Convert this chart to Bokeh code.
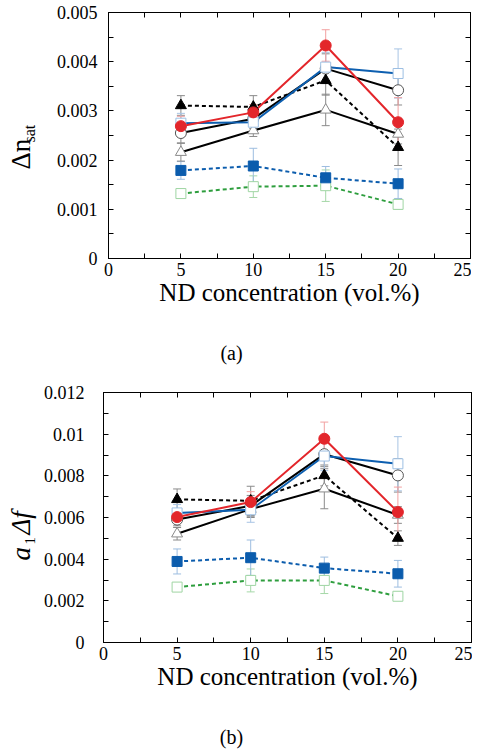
import math
from bokeh.plotting import figure
from bokeh.models import (ColumnDataSource, Whisker, TeeHead, LinearAxis,
                          FixedTicker, CustomJSTickFormatter, Range1d)
from bokeh.core.properties import value
from bokeh.layouts import column, row
from bokeh.embed import file_html
from bokeh.resources import INLINE

# ---------------- data ----------------
x_conc = [5, 10, 15, 20]
x_major = [0, 5, 10, 15, 20, 25]
x_minor = [2.5, 7.5, 12.5, 17.5, 22.5]

# (a) saturated birefringence
a_red = [0.00269, 0.00297, 0.00433, 0.00277]
a_red_err = [0.00020, 0.00016, 0.00032, 0.00050]
a_blue_open = [0.00275, 0.00277, 0.00389, 0.00376]
a_blue_open_err = [0.00020, 0.00020, 0.00030, 0.00050]
a_circle = [0.00255, 0.00284, 0.00386, 0.00342]
a_circle_err = [0.00020, 0.00020, 0.00030, 0.00030]
a_tri_open = [0.00216, 0.00260, 0.00302, 0.00253]
a_tri_open_err = [0.00018, 0.00012, 0.00032, 0.00020]
a_tri_fill = [0.00311, 0.00308, 0.00362, 0.00226]
a_tri_fill_err = [0.00020, 0.00023, 0.00030, 0.00037]
a_sq_fill = [0.00179, 0.00188, 0.00164, 0.00152]
a_sq_fill_err = [0.00018, 0.00036, 0.00023, 0.00030]
a_green = [0.00132, 0.00146, 0.00148, 0.00110]
a_green_err = [0.00008, 0.00022, 0.00032, 0.00010]
a_y_major = [0, 0.001, 0.002, 0.003, 0.004, 0.005]
a_y_minor = [0.0005, 0.0015, 0.0025, 0.0035, 0.0045]

# (b) a1 * delta f
b_red = [0.00602, 0.00674, 0.00978, 0.00626]
b_red_err = [0.00030, 0.00050, 0.00080, 0.00120]
b_blue_open = [0.00622, 0.00637, 0.00895, 0.00858]
b_blue_open_err = [0.00040, 0.00060, 0.00070, 0.00130]
b_circle = [0.00590, 0.00656, 0.00904, 0.00802]
b_circle_err = [0.00030, 0.00050, 0.00060, 0.00080]
b_tri_open = [0.00522, 0.00640, 0.00738, 0.00612]
b_tri_open_err = [0.00030, 0.00040, 0.00096, 0.00040]
b_tri_fill = [0.00687, 0.00680, 0.00802, 0.00501]
b_tri_fill_err = [0.00050, 0.00070, 0.00050, 0.00035]
b_sq_fill = [0.00389, 0.00407, 0.00357, 0.00330]
b_sq_fill_err = [0.00060, 0.00085, 0.00053, 0.00064]
b_green = [0.00266, 0.00298, 0.00298, 0.00222]
b_green_err = [0.00010, 0.00055, 0.00063, 0.00020]
b_y_major = [0, 0.002, 0.004, 0.006, 0.008, 0.010, 0.012]
b_y_minor = [0.001, 0.003, 0.005, 0.007, 0.009, 0.011]

x_title = "ND concentration (vol.%)"
captions = ["(a)", "(b)"]

FONT = "Liberation Serif"

# styles: (line_color, dash, marker, fill, outline, err_color)
STYLES = {
    "green": ("#2e9e3e", "4 3", "square", "white", "#9fd5a3", "#a6d8a8"),
    "sq_fill": ("#0b5cad", "4 3", "square", "#0b5cad", "#0b5cad", "#9dbde0"),
    "tri_open": ("black", "solid", "triangle", "white", "#8a8a8a", "#8a8a8a"),
    "circle": ("black", "solid", "circle", "white", "#555555", "#8a8a8a"),
    "tri_fill": ("black", "4 3", "triangle", "black", "black", "#8a8a8a"),
    "blue_open": ("#0d5fb0", "solid", "square", "white", "#9dbfe3", "#a8c4e4"),
    "red": ("#e3262b", "solid", "circle", "#e3262b", "#e3262b", "#f2a0a0"),
}
SIZES = {"square": 10, "triangle": 11, "circle": 11}

TOTAL_W = 471


def blank_fig(width, height):
    f = figure(output_backend="svg", toolbar_location=None,
               frame_width=width, frame_height=height,
               min_border_left=0, min_border_right=0, min_border_top=0,
               min_border_bottom=0, x_range=Range1d(0, width),
               y_range=Range1d(0, height), x_axis_type=None, y_axis_type=None)
    f.grid.visible = False
    f.outline_line_color = None
    f.background_fill_color = "white"
    f.border_fill_color = "white"
    return f


def make_label_fig(width, height, parts):
    """Narrow figure holding the rotated y-axis title pieces.
    parts: (text, x_px_from_left, y_px_from_top, font_size, style)"""
    f = blank_fig(width, height)
    for txt, xp, yp, fs, style in parts:
        f.text(x=[xp], y=[height - yp], text=[txt], angle=math.pi / 2,
               text_font=value(FONT), text_font_size=value(fs),
               text_font_style=style, text_align="left",
               text_baseline="alphabetic", text_color="black")
    return f


def make_caption_fig(height, txt, xc, yc):
    f = blank_fig(TOTAL_W, height)
    f.text(x=[xc], y=[height - yc], text=[txt], text_font=value(FONT),
           text_font_size=value("20px"), text_align="center",
           text_baseline="middle", text_color="black")
    return f


def make_panel(series, y_max, y_major, y_minor, fmt_code, border_left, frame_w,
               frame_h, top_border, bottom_border, label_standoff):
    p = figure(output_backend="svg", toolbar_location=None,
               frame_width=frame_w, frame_height=frame_h,
               min_border_left=border_left, min_border_right=1,
               min_border_top=top_border, min_border_bottom=bottom_border,
               x_range=Range1d(0, 25), y_range=Range1d(0, y_max),
               x_axis_type=None, y_axis_type=None)
    p.grid.visible = False
    p.outline_line_color = "black"
    p.outline_line_width = 1
    p.background_fill_color = "white"
    p.border_fill_color = "white"

    xt = FixedTicker(ticks=x_major, minor_ticks=x_minor)
    yt = FixedTicker(ticks=y_major, minor_ticks=y_minor)
    empty = CustomJSTickFormatter(code="return ''")

    def style_axis(ax):
        ax.major_tick_in = 5
        ax.major_tick_out = 0
        ax.minor_tick_in = 5
        ax.minor_tick_out = 0
        ax.major_tick_line_color = "black"
        ax.minor_tick_line_color = "black"
        ax.axis_line_color = "black"
        ax.major_label_text_font = FONT
        ax.major_label_text_font_size = "18px"
        ax.major_label_text_color = "black"

    xb = LinearAxis(ticker=xt, axis_label=x_title)
    style_axis(xb)
    xb.major_label_standoff = 4
    xb.axis_label_text_font = FONT
    xb.axis_label_text_font_size = "25px"
    xb.axis_label_text_font_style = "normal"
    xb.axis_label_text_color = "black"
    xb.axis_label_standoff = 0
    p.add_layout(xb, "below")

    yl = LinearAxis(ticker=yt, formatter=CustomJSTickFormatter(code=fmt_code))
    style_axis(yl)
    yl.major_label_standoff = label_standoff
    p.add_layout(yl, "left")

    xa = LinearAxis(ticker=xt, formatter=empty)
    style_axis(xa)
    xa.major_label_standoff = 0
    xa.major_label_text_font_size = "1px"
    p.add_layout(xa, "above")

    yr = LinearAxis(ticker=yt, formatter=empty)
    style_axis(yr)
    yr.major_label_standoff = 0
    yr.major_label_text_font_size = "1px"
    p.add_layout(yr, "right")

    # error bars
    for key, yv, ev in series:
        lc, dash, mk, fill, outl, ec = STYLES[key]
        src = ColumnDataSource(dict(x=x_conc, upper=[a + b for a, b in zip(yv, ev)],
                                    lower=[a - b for a, b in zip(yv, ev)]))
        w = Whisker(source=src, base="x", upper="upper", lower="lower",
                    line_color=ec, line_width=1,
                    upper_head=TeeHead(size=8, line_color=ec, line_width=1),
                    lower_head=TeeHead(size=8, line_color=ec, line_width=1))
        p.add_layout(w)
    # lines
    for key, yv, ev in series:
        lc, dash, mk, fill, outl, ec = STYLES[key]
        p.line(x_conc, yv, line_color=lc, line_width=2, line_dash=dash)
    # markers
    for key, yv, ev in series:
        lc, dash, mk, fill, outl, ec = STYLES[key]
        p.scatter(x_conc, yv, marker=mk, size=SIZES[mk], fill_color=fill,
                  line_color=outl, line_width=1)
    return p


series_a = [("green", a_green, a_green_err), ("sq_fill", a_sq_fill, a_sq_fill_err),
            ("tri_open", a_tri_open, a_tri_open_err), ("circle", a_circle, a_circle_err),
            ("tri_fill", a_tri_fill, a_tri_fill_err),
            ("blue_open", a_blue_open, a_blue_open_err), ("red", a_red, a_red_err)]
series_b = [("green", b_green, b_green_err), ("sq_fill", b_sq_fill, b_sq_fill_err),
            ("tri_open", b_tri_open, b_tri_open_err), ("circle", b_circle, b_circle_err),
            ("tri_fill", b_tri_fill, b_tri_fill_err),
            ("blue_open", b_blue_open, b_blue_open_err), ("red", b_red, b_red_err)]

fmt_a = "return tick === 0 ? '0' : tick.toFixed(3);"
fmt_b = "return tick === 0 ? '0' : String(Number(tick.toFixed(3)));"

BOT = 60
H1 = 12 + 246 + BOT      # 318
H2 = 12 + 250 + BOT      # 322
C1 = 380 - H1            # caption strip (a)
ROW2 = 380
C2 = 750 - ROW2 - H2     # caption strip (b)
L1 = 42
L2 = 40

lab1 = make_label_fig(L1, H1, [("\u0394n", 20, 157, "27px", "normal"),
                               ("sat", 29, 130, "16px", "normal")])
p1 = make_panel(series_a, 0.005, a_y_major, a_y_minor, fmt_a,
                border_left=108 - L1, frame_w=362, frame_h=246, top_border=12,
                bottom_border=BOT, label_standoff=11)
cap1 = make_caption_fig(C1, captions[0], 231, 352 - H1)

lab2 = make_label_fig(L2, H2, [("a", 20, 548 - ROW2, "27px", "italic"),
                               ("1", 29, 532 - ROW2, "15px", "normal"),
                               ("\u0394f", 20, 522 - ROW2, "27px", "italic")])
p2 = make_panel(series_b, 0.012, b_y_major, b_y_minor, fmt_b,
                border_left=102 - L2, frame_w=368, frame_h=250, top_border=12,
                bottom_border=BOT, label_standoff=19)
cap2 = make_caption_fig(C2, captions[1], 231, 736 - ROW2 - H2)

layout = column(row(lab1, p1, spacing=0), cap1,
                row(lab2, p2, spacing=0), cap2, spacing=0)
open("out.html", "w").write(file_html(layout, INLINE))
